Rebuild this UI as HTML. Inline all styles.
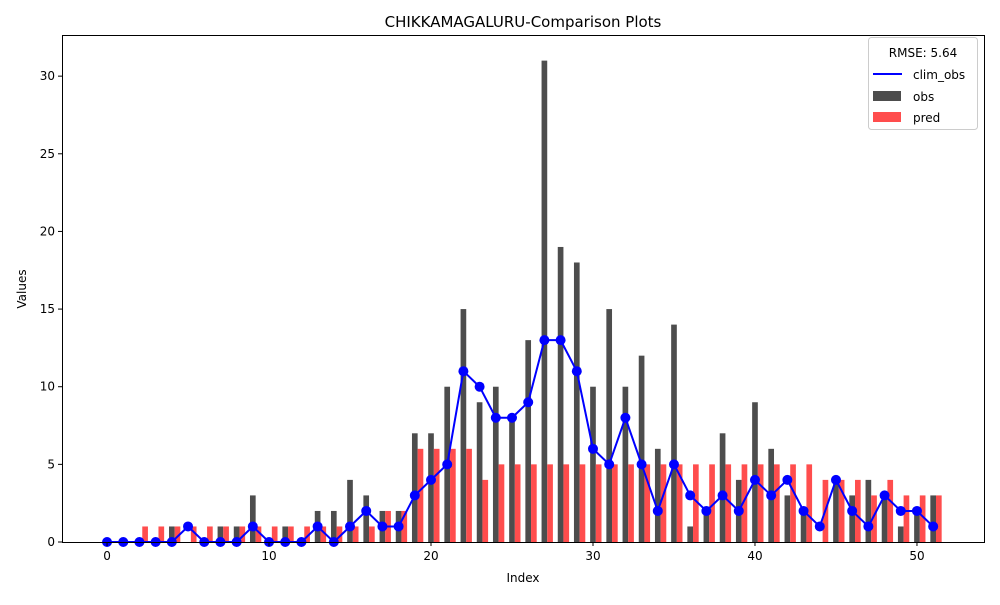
<!DOCTYPE html>
<html><head><meta charset="utf-8"><style>
body{margin:0;background:#fff;font-family:"Liberation Sans","DejaVu Sans",sans-serif;}
svg text{font-family:"DejaVu Sans","Liberation Sans",sans-serif;}
</style></head><body>
<svg id="chart" width="1000" height="600" xmlns="http://www.w3.org/2000/svg">
<rect width="1000" height="600" fill="#fff"/>
<text x="523" y="27" font-size="15" text-anchor="middle" fill="#000">CHIKKAMAGALURU-Comparison Plots</text>
<g id="bars"></g><g id="line"></g><g id="axes"></g>
<text x="523" y="582" font-size="12" text-anchor="middle">Index</text>
<text x="0" y="0" font-size="12" text-anchor="middle" transform="translate(26,289) rotate(-90)">Values</text>
<g>
<rect x="868.5" y="37.5" width="109" height="92" rx="3" fill="#fff" fill-opacity="0.8" stroke="#ccc"/>
<text x="923" y="57" font-size="12" text-anchor="middle">RMSE: 5.64</text>
<line x1="873" y1="74" x2="902" y2="74" stroke="#0000ff" stroke-width="2"/>
<text x="913" y="79" font-size="12">clim_obs</text>
<rect x="873" y="91" width="28" height="10" fill="#4d4d4d"/>
<text x="913" y="101" font-size="12">obs</text>
<rect x="873" y="112" width="28" height="10" fill="#ff4d4d"/>
<text x="913" y="122" font-size="12">pred</text>
</g>
</svg>
<script>
const obs=[0,0,0,0,1,0,0,1,1,3,0,1,0,2,2,4,3,2,2,7,7,10,15,9,10,8,13,31,19,18,10,15,10,12,6,14,1,2,7,4,9,6,3,2,0,4,3,4,3,1,2,3];
const pred=[0,0,1,1,1,1,1,1,1,1,1,1,1,1,1,1,1,2,2,6,6,6,6,4,5,5,5,5,5,5,5,5,5,5,5,5,5,5,5,5,5,5,5,5,4,4,4,3,4,3,3,3];
const clim=[0,0,0,0,0,1,0,0,0,1,0,0,0,1,0,1,2,1,1,3,4,5,11,10,8,8,9,13,13,11,6,5,8,5,2,5,3,2,3,2,4,3,4,2,1,4,2,1,3,2,2,1];
const xTicks=[0,10,20,30,40,50];
const yTicks=[0,5,10,15,20,25,30];
const L=62,R=985,T=35,B=542,xmin=-2.78,xmax=54.2,ymin=0,ymax=32.65;
const sx=v=>L+(v-xmin)/(xmax-xmin)*(R-L);
const sy=v=>B-(v-ymin)/(ymax-ymin)*(B-T);
const NS='http://www.w3.org/2000/svg';
function mk(t,a,p){const e=document.createElementNS(NS,t);for(const k in a)e.setAttribute(k,a[k]);p.appendChild(e);return e;}
const bars=document.getElementById('bars'),line=document.getElementById('line'),axes=document.getElementById('axes');
const w=0.35;
obs.forEach((v,i)=>{const x0=sx(i-w/2),x1=sx(i+w/2);
const r=mk('rect',{x:x0,y:sy(v),width:x1-x0,height:sy(0)-sy(v),fill:'#4d4d4d'},bars);

});
pred.forEach((v,i)=>{const x0=sx(i+w/2),x1=sx(i+1.5*w);
const r=mk('rect',{x:x0,y:sy(v),width:x1-x0,height:sy(0)-sy(v),fill:'#ff4d4d'},bars);

});
const pl=mk('polyline',{points:clim.map((v,i)=>sx(i)+','+sy(v)).join(' '),fill:'none',stroke:'#0000ff','stroke-width':2},line);


clim.forEach((v,i)=>{const c=mk('circle',{cx:sx(i),cy:sy(v),r:5,fill:'#0000ff'},line);

});
const fr=mk('rect',{x:L+.5,y:T+.5,width:R-L-1,height:B-T,fill:'none',stroke:'#000','stroke-width':1},axes);


xTicks.forEach(t=>{const x=sx(t);mk('line',{x1:x,y1:B,x2:x,y2:B+4,stroke:'#000'},axes);
const tx=mk('text',{x:x,y:B+18,'font-size':12,'text-anchor':'middle'},axes);tx.textContent=t;

});
yTicks.forEach(t=>{const y=sy(t);mk('line',{x1:L-4,y1:y,x2:L,y2:y,stroke:'#000'},axes);
const tx=mk('text',{x:L-7,y:y+4,'font-size':12,'text-anchor':'end'},axes);tx.textContent=t;

});
</script>
</body></html>
